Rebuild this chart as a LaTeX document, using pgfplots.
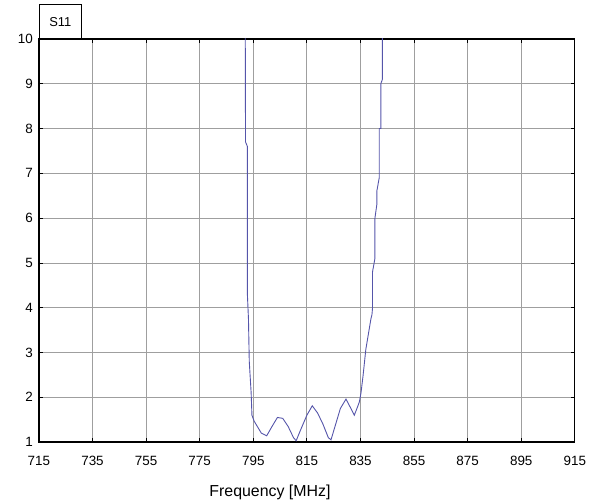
\documentclass[border=0pt]{standalone}
\usepackage{pgfplots}
\pgfplotsset{compat=1.18}
\usepackage{fontspec}
\setmainfont{Liberation Sans}
\definecolor{curve}{RGB}{85,85,170}
\begin{document}
\fontsize{12}{14}\selectfont
\begin{tikzpicture}[x=1bp,y=1bp]
\begin{axis}[
  scale only axis,
  width=537bp, height=404bp,
  xmin=715, xmax=915, ymin=1, ymax=10,
  xtick={715,735,...,915},
  ytick={1,...,10},
  grid=major,
  major grid style={gray!75, line width=0.8bp},
  axis line style={black, line width=1.3bp},
  tick style={black, line width=0.8bp},
  major tick length=4bp,
  tick align=inside,
  /pgf/number format/assume math mode=true,
  /pgf/number format/1000 sep={},
  tick label style={font=\fontsize{13.5}{15}\selectfont},
  xticklabel style={yshift=-10bp},
  yticklabel style={xshift=-2bp},
  xlabel={Frequency [MHz]},
  xlabel style={font=\fontsize{16}{18}\selectfont, yshift=-11bp, xshift=-37bp},
  clip=true,
]
\addplot[color=curve, line width=0.9bp] coordinates {
  (792.0,10.3) (792.1,7.7) (792.8,7.6) (792.8,4.3) (793.2,3.75)
  (793.5,2.8) (794.2,2.1) (794.5,1.6) (795.3,1.47) (796.5,1.35)
  (798,1.2) (800,1.14) (802,1.35) (804,1.55) (806,1.53)
  (808,1.35) (810,1.1) (811,1.03) (812.5,1.25) (815,1.6)
  (817,1.81) (819,1.65) (821,1.4) (823,1.1) (824,1.05)
  (825.5,1.35) (827.5,1.75) (829.6,1.96) (831,1.8) (832.7,1.6)
  (834.0,1.8) (834.6,1.9) (835.2,2.1) (836.0,2.5) (837.0,3.07)
  (838.2,3.5) (838.9,3.75) (839.3,3.85) (839.5,4.0) (839.5,4.8)
  (840.4,5.1) (840.4,6.0) (841.1,6.3) (841.1,6.6) (842.0,6.9)
  (842.0,8.0) (842.6,8.0) (842.6,9.0) (843.2,9.1) (843.2,10.3)
};
\end{axis}
\node[draw, line width=0.8bp, anchor=south west, minimum width=42bp,
      minimum height=34bp, inner sep=0pt, font=\fontsize{13}{15}\selectfont]
  at (current axis.north west) {S11};
\path (current axis.south west) ++(-39bp,-61bp) coordinate (bl);
\path (current axis.north east) ++(14bp,39bp) coordinate (tr);
\useasboundingbox (bl) rectangle (tr);
\end{tikzpicture}
\end{document}
